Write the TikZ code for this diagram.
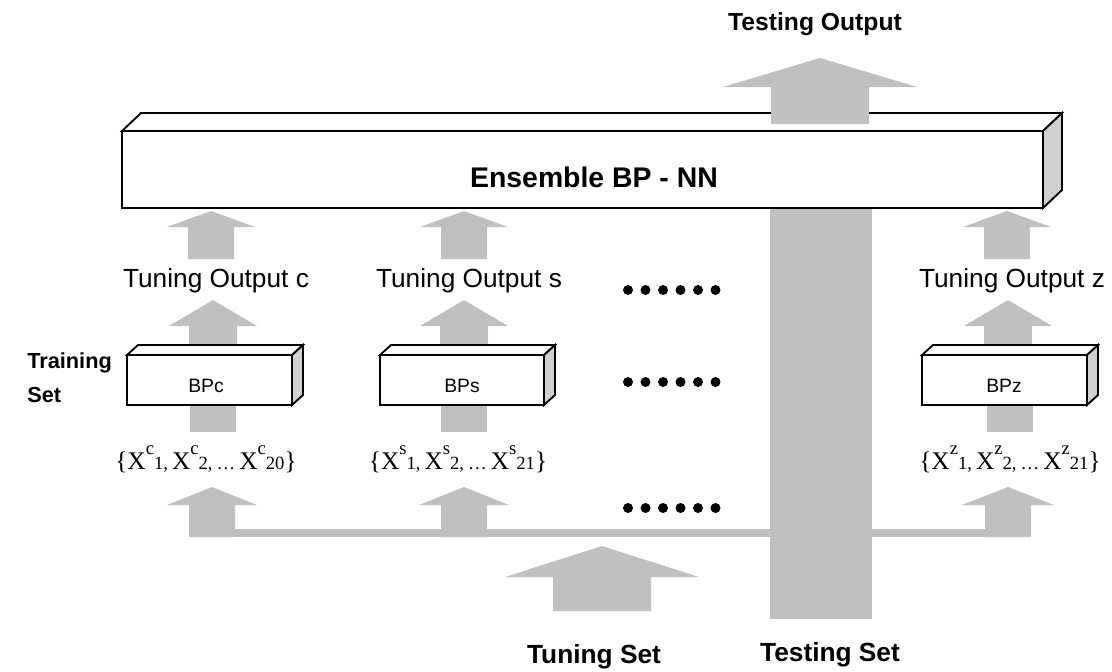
\documentclass[tikz,border=0pt]{standalone}
\usepackage{fontspec}
\setmainfont{Liberation Serif}
\newfontfamily\arial{Liberation Sans}
\definecolor{arrgray}{RGB}{192,192,192}
\definecolor{sidegray}{RGB}{208,208,208}
\newcommand\uparr[7]{% cx, apex y, head base y, bottom y, half head, half shaft, name
  \fill[arrgray] (#1,#2) -- (#1+#5,#3) -- (#1+#6,#3) -- (#1+#6,#4) -- (#1-#6,#4) -- (#1-#6,#3) -- (#1-#5,#3) -- cycle;
  \coordinate (#7) at (#1,#2);}
\newcommand\pbox[7]{% x1,y1,x2,y2,dx,dy,name
  \coordinate (#7) at ({(#1+#3)/2},{(#2+#4)/2});
  \filldraw[boxline,fill=white] (#1,#2) -- (#1+#5,#2-#6) -- (#3+#5,#2-#6) -- (#3,#2) -- cycle;
  \filldraw[boxline,fill=sidegray] (#3,#2) -- (#3+#5,#2-#6) -- (#3+#5,#4-#6) -- (#3,#4) -- cycle;
  \filldraw[boxline,fill=white] (#1,#2) rectangle (#3,#4);}
\newcommand\sups[1]{\raisebox{11pt}{\fontsize{14}{14}\selectfont #1}}
\newcommand\subs[1]{{\fontsize{14}{14}\selectfont #1}}
\newcommand\xset[4]{\fontsize{19}{21}\selectfont\{X\sups{#1}\subs{#2,}\hspace{3pt}X\sups{#1}\subs{#3,}\hspace{3pt}\subs{\ldots}\hspace{3pt}X\sups{#1}\subs{#4}\}}
\tikzset{
  boxline/.style={draw=black,line width=1.4pt,line join=miter},
  boldlab/.style={font=\arial\bfseries,inner sep=0pt,anchor=base},
  tunlab/.style={font=\arial\fontsize{19.7}{22}\selectfont,inner sep=0pt,anchor=base},
  bplab/.style={font=\arial\fontsize{14.5}{16}\selectfont,inner sep=0pt,anchor=base},
  setlab/.style={inner sep=0pt,anchor=base},
  dot/.style={circle,fill=black,inner sep=0pt,minimum size=7.5pt}
}
\begin{document}
\begin{tikzpicture}[x=0.75pt,y=-0.75pt]
\useasboundingbox (0,0) rectangle (1112,671);
% testing set column
\fill[arrgray] (770,200) rectangle (872,619);
\coordinate (testcol) at (821,619);
% ensemble box
\pbox{122}{131}{1043}{208}{19}{18}{ens}
\node[boldlab,font=\arial\bfseries\fontsize{21.3}{24}\selectfont] (enslab) at (594,187) {Ensemble BP - NN};
% testing output arrow
\uparr{820}{58}{87}{124}{97}{49}{testout}
\node[boldlab,font=\arial\bfseries\fontsize{18.5}{20}\selectfont] (testoutlab) at (815,30) {Testing Output};
% tuning output -> ensemble arrows
\uparr{211}{211}{227}{259}{44}{23}{ac}
\uparr{464}{211}{227}{259}{44}{23}{as}
\uparr{1007}{211}{227}{259}{44}{23}{az}
\node[tunlab] (toc) at (216,287) {Tuning Output c};
\node[tunlab] (tos) at (469,287) {Tuning Output s};
\node[tunlab] (toz) at (1012,287) {Tuning Output z};
% BP -> tuning output arrows
\uparr{213}{300}{326}{358}{44}{24}{bc}
\uparr{464}{300}{326}{358}{44}{24}{bs}
\uparr{1008}{300}{326}{358}{44}{24}{bz}
% shafts below BP boxes
\fill[arrgray] (190,400) rectangle (236,432);
\fill[arrgray] (441,400) rectangle (487,432);
\fill[arrgray] (987,400) rectangle (1033,432);
% BP boxes
\pbox{127}{355}{292}{405}{11}{10}{bpc}
\pbox{380}{355}{544}{405}{11}{10}{bps}
\pbox{922}{355}{1087}{405}{11}{10}{bpz}
\node[bplab] (bpclab) at (206,392) {BPc};
\node[bplab] (bpslab) at (462,392) {BPs};
\node[bplab] (bpzlab) at (1004,392) {BPz};
\node[boldlab,font=\arial\bfseries\fontsize{16.3}{18}\selectfont,anchor=base west] (train1) at (27,368) {Training};
\node[boldlab,font=\arial\bfseries\fontsize{16.3}{18}\selectfont,anchor=base west] (train2) at (27,402) {Set};
% sets
\node[setlab] (setc) at (206,469) {\xset{c}{1}{2}{20}};
\node[setlab] (sets) at (458,469) {\xset{s}{1}{2}{21}};
\node[setlab] (setz) at (1010,469) {\xset{z}{1}{2}{21}};
% tuning line and arrows
\fill[arrgray] (214,529) rectangle (1023,537);
\uparr{212}{487}{505}{537}{45}{23}{dc}
\uparr{464}{487}{505}{537}{45}{23}{ds}
\uparr{1008}{487}{505}{537}{46}{23}{dz}
\uparr{602}{546}{577}{611}{97}{49}{tuneset}
\node[boldlab,font=\arial\bfseries\fontsize{19.7}{22}\selectfont] (tunelab) at (594,663) {Tuning Set};
\node[boldlab,font=\arial\bfseries\fontsize{19.7}{22}\selectfont] (testlab) at (830,661) {Testing Set};
% dots
\foreach \yy/\nm in {290/r1,382/r2,508/r3}{
  \foreach \i in {0,...,5}{
    \node[dot] (\nm\i) at (628+17.5*\i,\yy) {};
  }
}
\end{tikzpicture}
\end{document}
